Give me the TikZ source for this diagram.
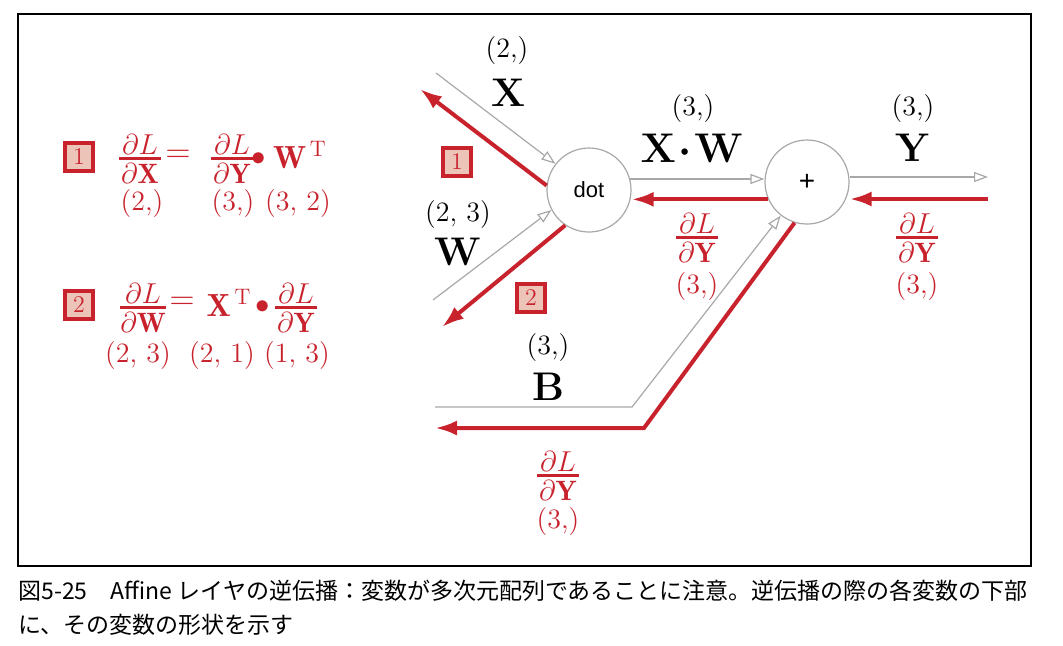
\documentclass[tikz,border=0pt]{standalone}
\usepackage{amsmath}
\usepackage{fontspec}
\setsansfont{Liberation Sans}
\newfontfamily\jpfont{Noto Sans CJK JP}
\usetikzlibrary{arrows.meta,positioning}

\definecolor{bpred}{RGB}{200,34,44}
\definecolor{bppink}{RGB}{236,196,184}
\definecolor{bpgray}{RGB}{168,168,168}

% dL/d(var): a compact stacked fraction with a thick bar
\newcommand{\dLd}[1]{\vbox{\offinterlineskip\halign{\hfil##\hfil\cr
  \kern1.5pt$\partial L$\kern1.5pt\cr
  \noalign{\kern1.5pt\hrule height1.4pt\kern2pt}
  $\partial\mathbf{#1}$\cr}}}

\begin{document}
\begin{tikzpicture}[
  x=0.5pt, y=-0.5pt,
  font=\fontsize{14}{16}\selectfont,
  opnode/.style={circle, draw=bpgray, line width=0.6pt, minimum size=42pt,
                 inner sep=0pt, font=\sffamily\fontsize{11}{13}\selectfont},
  numbox/.style={draw=bpred, line width=1.6pt, fill=bppink, text=bpred,
                 minimum size=14pt, inner sep=0pt, font=\fontsize{12}{14}\selectfont},
  varlbl/.style={inner sep=0pt, font=\fontsize{20}{24}\selectfont\bfseries},
  shp/.style={inner sep=0pt},
  grad/.style={inner sep=0pt, text=bpred},
  bigred/.style={grad, font=\fontsize{16}{18}\selectfont},
  fwd/.style={draw=bpgray, line width=0.6pt,
              -{Triangle[open, length=7pt, width=5pt]}},
  bwd/.style={draw=bpred, line width=2pt, -{Latex[length=11pt, width=7.5pt]}}
]
\useasboundingbox (0,0) rectangle (1063,645);
\draw[line width=0.6pt] (18,14) rectangle (1031,566);

%--- Left: formulas 1 and 2 -------------------------------------------------
\node[numbox] (eqa) at (79,157) {1};
\node[grad] (eqadx) at (140,159) {\dLd{X}};
\node[bigred] (eqaeq) at (178,156) {$=$};
\node[grad] (eqady) at (232,159) {\dLd{Y}};
\node[grad] (eqadot) at (259,159) {$\bullet$};
\node[bigred] (eqaw) at (300,155) {$\mathbf{W}^{\,\mathrm{T}}$};
\node[grad] (eqasx) at (142,203) {(2,)};
\node[grad] (eqasy) at (233,203) {(3,)};
\node[grad] (eqasw) at (298,203) {(3, 2)};

\node[numbox] (eqb) at (79,305) {2};
\node[grad] (eqbdw) at (143,308) {\dLd{W}};
\node[bigred] (eqbeq) at (182,303) {$=$};
\node[bigred] (eqbx) at (229,303) {$\mathbf{X}^{\,\mathrm{T}}$};
\node[grad] (eqbdot) at (263,307) {$\bullet$};
\node[grad] (eqbdy) at (296,308) {\dLd{Y}};
\node[grad] (eqbsw) at (138,355) {(2, 3)};
\node[grad] (eqbsx) at (222,355) {(2, 1)};
\node[grad] (eqbsy) at (297,355) {(1, 3)};

%--- Right: graph nodes -----------------------------------------------------
\node[opnode] (dot) at (589,190) {dot};
\node[opnode, font=\sffamily\fontsize{14}{16}\selectfont] (add) at (807,182) {+};

\coordinate (xin)   at (436,73);
\coordinate (xout)  at (420,89);
\coordinate (win)   at (433,300);
\coordinate (wout)  at (442,327);
\coordinate (yout)  at (988,177);
\coordinate (yin)   at (988,199);
\coordinate (bin)   at (435,407);
\coordinate (bbend) at (632,407);
\coordinate (gbend) at (644,428);
\coordinate (gout)  at (435,428);

%--- Forward arrows ---------------------------------------------------------
\draw[fwd] (xin) -- (dot.142);
\draw[fwd] (win) -- (dot.208);
\draw[fwd] (dot.15) -- (dot.15 -| add.west);
\draw[fwd] (add.east |- yout) -- (yout);
\draw[fwd] (bin) -- (bbend) -- (add.232);

%--- Backward arrows --------------------------------------------------------
\draw[bwd] (dot.174) -- (xout);
\draw[bwd] (dot.236) -- (wout);
\draw[bwd] (add.204) -- (add.204 -| dot.east);
\draw[bwd] (yin) -- (yin -| add.east);
\draw[bwd] (add.253) -- (gbend) -- (gout);

\node[numbox] (boxa) at (457,162) {1};
\node[numbox] (boxb) at (531,298) {2};

%--- Variable labels --------------------------------------------------------
\node[shp]    (xshp) at (507,51)  {(2,)};
\node[varlbl] (xlbl) at (508,93)  {X};
\node[shp]    (wshp) at (458,214) {(2, 3)};
\node[varlbl] (wlbl) at (458,252) {W};
\node[shp]    (xwshp) at (693,109) {(3,)};
\node[varlbl] (xwlbl) at (692,148) {{\boldmath$\mathbf{X}\!\cdot\!\mathbf{W}$}};
\node[shp]    (yshp) at (913,109) {(3,)};
\node[varlbl] (ylbl) at (912,148) {Y};
\node[shp]    (bshp) at (548,347) {(3,)};
\node[varlbl] (blbl) at (548,387) {B};

%--- Gradient labels --------------------------------------------------------
\node[grad] (gxw)  at (697,238) {\dLd{Y}};
\node[grad] (gxws) at (697,286) {(3,)};
\node[grad] (gy)   at (917,238) {\dLd{Y}};
\node[grad] (gys)  at (917,286) {(3,)};
\node[grad] (gb)   at (558,476) {\dLd{Y}};
\node[grad] (gbs)  at (558,521) {(3,)};

%--- Caption ----------------------------------------------------------------
\node[anchor=north west, inner sep=0pt, align=left,
      font=\jpfont\fontsize{11.5}{17}\selectfont] (caption) at (18,580)
  {図5-25\hspace{1em}Affine レイヤの逆伝播：変数が多次元配列であることに注意。逆伝播の際の各変数の下部\\
   に、その変数の形状を示す};
\end{tikzpicture}
\end{document}
